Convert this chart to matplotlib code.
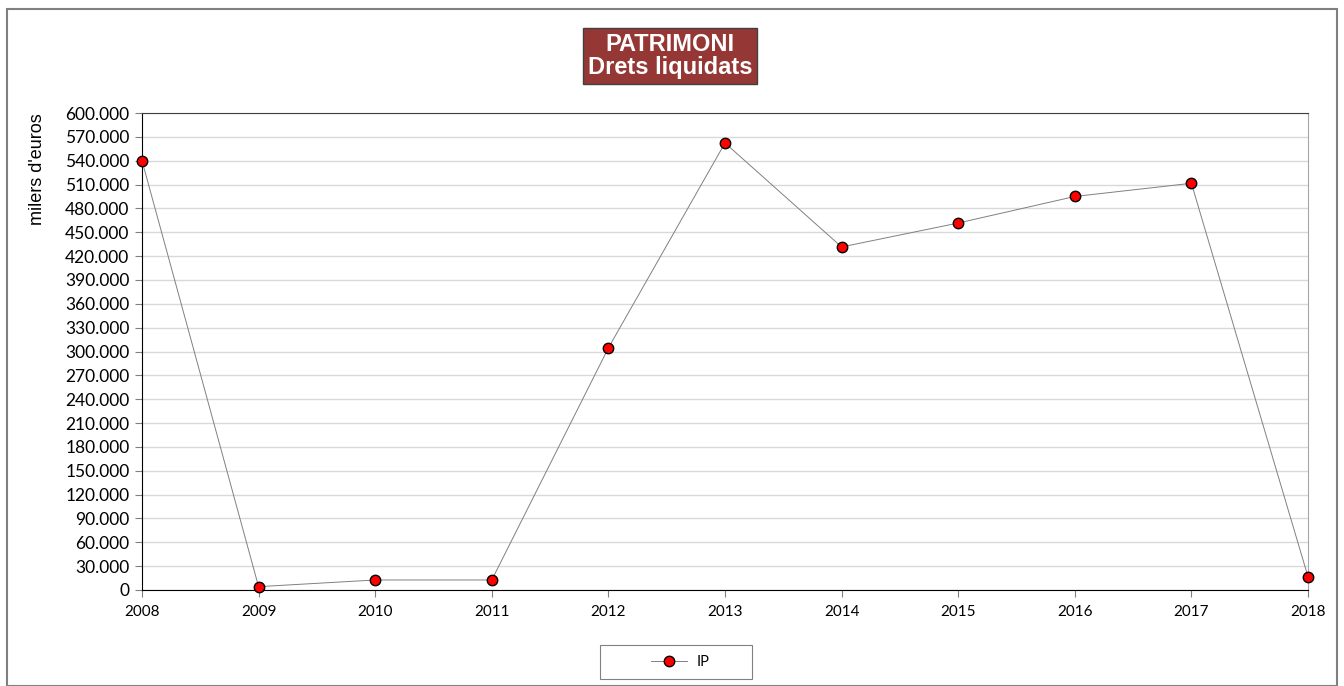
import matplotlib.pyplot as plt
import matplotlib.patches as patches
from matplotlib.ticker import FuncFormatter, MultipleLocator

# data (milers d'euros)
years = [2008, 2009, 2010, 2011, 2012, 2013, 2014, 2015, 2016, 2017, 2018]
ip = [540000, 4200, 12600, 12600, 304500, 562300, 431500, 461600, 495000, 511600, 16700]

W, H = 1344, 686
fig = plt.figure(figsize=(W / 100, H / 100), dpi=100)
ax = fig.add_axes([142 / W, 1 - 590 / H, (1308 - 142) / W, (590 - 113) / H])

line, = ax.plot(years, ip, color="#808080", lw=0.7, marker="o", markersize=7.5,
                markerfacecolor="red", markeredgecolor="black", markeredgewidth=1.0,
                label="IP", clip_on=False, zorder=3)

ax.set_xlim(2008, 2018)
ax.set_ylim(0, 600000)
ax.yaxis.set_major_locator(MultipleLocator(30000))
ax.xaxis.set_major_locator(MultipleLocator(1))


def miles(v, pos):
    if v == 0:
        return "0"
    return f"{int(v):,}".replace(",", ".")


ax.yaxis.set_major_formatter(FuncFormatter(miles))
ax.xaxis.set_major_formatter(FuncFormatter(lambda v, p: f"{int(v)}"))

ax.grid(axis="y", color="#d9d9d9", lw=1.0)
ax.set_axisbelow(True)
ax.spines["top"].set_color("#404040")
ax.spines["right"].set_color("#a6a6a6")
ax.spines["left"].set_color("black")
ax.spines["bottom"].set_color("black")
ax.tick_params(axis="y", direction="out", length=5, width=0.8, color="#808080",
               labelsize=12.5, pad=4)
ax.tick_params(axis="x", direction="out", length=5, width=0.8, color="#808080",
               labelsize=11, pad=6)
for lab in ax.get_xticklabels() + ax.get_yticklabels():
    lab.set_fontfamily("Lato")

fig.text(37 / W, 1 - 113 / H, "milers d'euros", rotation=90, ha="center", va="top",
         fontsize=13, fontfamily="Liberation Sans")

fig.text(670 / W, 1 - 56 / H, "PATRIMONI\nDrets liquidats", ha="center", va="center",
         fontsize=17, fontweight="bold", color="white", fontfamily="Liberation Sans",
         linespacing=1.0,
         bbox=dict(boxstyle="square,pad=0.2", facecolor="#953735", edgecolor="#404040", lw=1))

# legend: no frame from matplotlib, the wider box is drawn separately
leg = fig.legend(handles=[line], labels=["IP"], loc="center",
                 bbox_to_anchor=(680 / W, 1 - 662 / H),
                 frameon=False, prop={"family": "Lato", "size": 10.5},
                 handlelength=2.5, handletextpad=0.6, borderaxespad=0)
leg_box = patches.Rectangle((600 / W, 1 - 679 / H), 152 / W, 34 / H,
                            transform=fig.transFigure, fill=False,
                            edgecolor="#808080", lw=0.8)
fig.patches.append(leg_box)

border = patches.Rectangle((7 / W, 0), (1337 - 7) / W, 1 - 9 / H, transform=fig.transFigure,
                           fill=False, edgecolor="#808080", lw=1.5)
fig.patches.append(border)

fig.savefig("out.png", dpi=100)
